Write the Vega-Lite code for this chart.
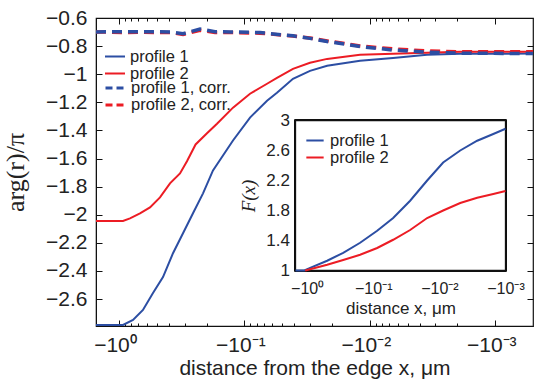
{
  "$schema": "https://vega.github.io/schema/vega-lite/v6.json",
  "width": 437,
  "height": 308,
  "autosize": {"type": "none"},
  "padding": {"left": 96, "top": 18, "right": 1, "bottom": 57},
  "background": "white",
  "config": {
    "view": {"stroke": "#111", "strokeWidth": 1.2},
    "font": "Liberation Sans",
    "axis": {
      "grid": false,
      "domainColor": "#111",
      "tickColor": "#111",
      "labelColor": "#222",
      "titleColor": "#222",
      "labelFont": "Liberation Sans",
      "titleFont": "Liberation Sans",
      "titleFontWeight": "normal"
    },
    "legend": {"labelFont": "Liberation Sans", "labelColor": "#222"}
  },
  "layer": [
    {
      "data": {
        "values": [
          {"d": 1.525, "v": -2.785, "s": "profile 1"},
          {"d": 0.929, "v": -2.785, "s": "profile 1"},
          {"d": 0.773, "v": -2.749, "s": "profile 1"},
          {"d": 0.644, "v": -2.678, "s": "profile 1"},
          {"d": 0.5357, "v": -2.557, "s": "profile 1"},
          {"d": 0.4457, "v": -2.444, "s": "profile 1"},
          {"d": 0.371, "v": -2.274, "s": "profile 1"},
          {"d": 0.3087, "v": -2.132, "s": "profile 1"},
          {"d": 0.257, "v": -1.99, "s": "profile 1"},
          {"d": 0.2138, "v": -1.848, "s": "profile 1"},
          {"d": 0.178, "v": -1.685, "s": "profile 1"},
          {"d": 0.1233, "v": -1.472, "s": "profile 1"},
          {"d": 0.0902, "v": -1.309, "s": "profile 1"},
          {"d": 0.066, "v": -1.189, "s": "profile 1"},
          {"d": 0.055, "v": -1.132, "s": "profile 1"},
          {"d": 0.041, "v": -1.033, "s": "profile 1"},
          {"d": 0.03, "v": -0.976, "s": "profile 1"},
          {"d": 0.0219, "v": -0.94, "s": "profile 1"},
          {"d": 0.01197, "v": -0.905, "s": "profile 1"},
          {"d": 0.00653, "v": -0.884, "s": "profile 1"},
          {"d": 0.0035, "v": -0.862, "s": "profile 1"},
          {"d": 0.00191, "v": -0.855, "s": "profile 1"},
          {"d": 0.0005, "v": -0.853, "s": "profile 1"},

          {"d": 1.525, "v": -2.045, "s": "profile 2"},
          {"d": 0.929, "v": -2.045, "s": "profile 2"},
          {"d": 0.817, "v": -2.026, "s": "profile 2"},
          {"d": 0.68, "v": -1.99, "s": "profile 2"},
          {"d": 0.566, "v": -1.948, "s": "profile 2"},
          {"d": 0.471, "v": -1.877, "s": "profile 2"},
          {"d": 0.392, "v": -1.777, "s": "profile 2"},
          {"d": 0.3263, "v": -1.706, "s": "profile 2"},
          {"d": 0.287, "v": -1.62, "s": "profile 2"},
          {"d": 0.245, "v": -1.5, "s": "profile 2"},
          {"d": 0.1987, "v": -1.42, "s": "profile 2"},
          {"d": 0.1654, "v": -1.352, "s": "profile 2"},
          {"d": 0.1233, "v": -1.238, "s": "profile 2"},
          {"d": 0.0902, "v": -1.139, "s": "profile 2"},
          {"d": 0.066, "v": -1.068, "s": "profile 2"},
          {"d": 0.055, "v": -1.026, "s": "profile 2"},
          {"d": 0.041, "v": -0.962, "s": "profile 2"},
          {"d": 0.03, "v": -0.919, "s": "profile 2"},
          {"d": 0.0219, "v": -0.891, "s": "profile 2"},
          {"d": 0.01197, "v": -0.862, "s": "profile 2"},
          {"d": 0.00653, "v": -0.855, "s": "profile 2"},
          {"d": 0.0035, "v": -0.848, "s": "profile 2"},
          {"d": 0.00191, "v": -0.841, "s": "profile 2"},
          {"d": 0.0005, "v": -0.84, "s": "profile 2"},

          {"d": 1.525, "v": -0.699, "s": "profile 2, corr."},
          {"d": 1.18, "v": -0.701, "s": "profile 2, corr."},
          {"d": 0.896, "v": -0.703, "s": "profile 2, corr."},
          {"d": 0.68, "v": -0.701, "s": "profile 2, corr."},
          {"d": 0.516, "v": -0.703, "s": "profile 2, corr."},
          {"d": 0.392, "v": -0.703, "s": "profile 2, corr."},
          {"d": 0.3087, "v": -0.717, "s": "profile 2, corr."},
          {"d": 0.226, "v": -0.688, "s": "profile 2, corr."},
          {"d": 0.1715, "v": -0.703, "s": "profile 2, corr."},
          {"d": 0.13, "v": -0.703, "s": "profile 2, corr."},
          {"d": 0.0751, "v": -0.708, "s": "profile 2, corr."},
          {"d": 0.041, "v": -0.728, "s": "profile 2, corr."},
          {"d": 0.03, "v": -0.742, "s": "profile 2, corr."},
          {"d": 0.0219, "v": -0.763, "s": "profile 2, corr."},
          {"d": 0.01197, "v": -0.799, "s": "profile 2, corr."},
          {"d": 0.00653, "v": -0.82, "s": "profile 2, corr."},
          {"d": 0.0035, "v": -0.834, "s": "profile 2, corr."},
          {"d": 0.00191, "v": -0.841, "s": "profile 2, corr."},
          {"d": 0.0005, "v": -0.841, "s": "profile 2, corr."},

          {"d": 1.525, "v": -0.699, "s": "profile 1, corr."},
          {"d": 1.18, "v": -0.698, "s": "profile 1, corr."},
          {"d": 0.896, "v": -0.697, "s": "profile 1, corr."},
          {"d": 0.68, "v": -0.699, "s": "profile 1, corr."},
          {"d": 0.516, "v": -0.697, "s": "profile 1, corr."},
          {"d": 0.392, "v": -0.699, "s": "profile 1, corr."},
          {"d": 0.3087, "v": -0.712, "s": "profile 1, corr."},
          {"d": 0.226, "v": -0.678, "s": "profile 1, corr."},
          {"d": 0.1715, "v": -0.697, "s": "profile 1, corr."},
          {"d": 0.13, "v": -0.699, "s": "profile 1, corr."},
          {"d": 0.0751, "v": -0.704, "s": "profile 1, corr."},
          {"d": 0.041, "v": -0.727, "s": "profile 1, corr."},
          {"d": 0.03, "v": -0.745, "s": "profile 1, corr."},
          {"d": 0.0219, "v": -0.767, "s": "profile 1, corr."},
          {"d": 0.01197, "v": -0.803, "s": "profile 1, corr."},
          {"d": 0.00653, "v": -0.828, "s": "profile 1, corr."},
          {"d": 0.0035, "v": -0.843, "s": "profile 1, corr."},
          {"d": 0.00191, "v": -0.85, "s": "profile 1, corr."},
          {"d": 0.0005, "v": -0.853, "s": "profile 1, corr."}
        ]
      },
      "layer": [
        {
          "transform": [{"filter": {"field": "s", "oneOf": ["profile 1", "profile 2"]}}],
          "mark": {"type": "line", "clip": true, "strokeWidth": 2},
          "encoding": {
            "x": {
              "field": "d",
              "type": "quantitative",
              "scale": {"type": "log", "domain": [0.0005, 1.525], "reverse": true, "nice": false},
              "axis": {
                "orient": "bottom",
                "values": [1, 0.1, 0.01, 0.001],
                "labelExpr": "datum.value > 0.5 ? '−10⁰' : datum.value > 0.05 ? '−10⁻¹' : datum.value > 0.005 ? '−10⁻²' : '−10⁻³'",
                "tickSize": -6,
                "labelPadding": 14,
                "labelOffset": -4,
                "labelFontSize": 21,
                "labelFlush": false,
                "title": "distance from the edge x, μm",
                "titleFontSize": 21,
                "titlePadding": 2
              }
            },
            "y": {
              "field": "v",
              "type": "quantitative",
              "scale": {"domain": [-2.792, -0.6], "nice": false, "zero": false},
              "axis": {
                "orient": "left",
                "values": [-2.6, -2.4, -2.2, -2, -1.8, -1.6, -1.4, -1.2, -1, -0.8, -0.6],
                "format": "~g",
                "tickSize": -6,
                "labelPadding": 15,
                "labelFontSize": 21,
                "labelFlush": false,
                "title": "arg(r)/π",
                "titleFont": "Liberation Serif",
                "titleFontSize": 26,
                "titlePadding": 17
              }
            },
            "color": {
              "field": "s",
              "type": "nominal",
              "scale": {"domain": ["profile 1", "profile 2"], "range": ["#2c4ea3", "#ec1c24"]},
              "legend": {
                "title": null, "orient": "none", "legendX": 8, "legendY": 31,
                "labelFontSize": 16.5, "symbolSize": 400, "symbolType": "stroke", "symbolStrokeWidth": 2,
                "clipHeight": 15, "rowPadding": 0, "labelOffset": 4, "padding": 0
              }
            }
          }
        },
        {
          "transform": [{"filter": {"field": "s", "oneOf": ["profile 1, corr.", "profile 2, corr."]}}],
          "mark": {"type": "line", "clip": true, "strokeWidth": 3.5, "strokeDash": [10, 6]},
          "encoding": {
            "x": {"field": "d", "type": "quantitative", "axis": null},
            "y": {"field": "v", "type": "quantitative", "axis": null},
            "stroke": {
              "field": "s",
              "type": "nominal",
              "scale": {"domain": ["profile 1, corr.", "profile 2, corr."], "range": ["#2c4ea3", "#ec1c24"]},
              "legend": {
                "title": null, "orient": "none", "legendX": 8, "legendY": 62.5,
                "labelFontSize": 16.5, "symbolSize": 400, "symbolType": "stroke", "symbolStrokeWidth": 3,
                "symbolDash": [7, 4],
                "clipHeight": 15, "rowPadding": 0, "labelOffset": 4, "padding": 0
              }
            }
          }
        },
        {
          "data": {"values": [{"k": 0}]},
          "mark": {"type": "point", "opacity": 0},
          "encoding": {
            "x": {
              "datum": 1, "type": "quantitative", "scale": {"type": "log"},
              "axis": {"orient": "top", "values": [1, 0.1, 0.01, 0.001], "labels": false, "domain": false, "tickSize": -6, "title": null}
            },
            "y": {
              "datum": -1, "type": "quantitative",
              "axis": {"orient": "right", "values": [-2.6, -2.4, -2.2, -2, -1.8, -1.6, -1.4, -1.2, -1, -0.8, -0.6], "labels": false, "domain": false, "tickSize": -6, "title": null}
            }
          }
        },
        {
          "data": {"values": [{"k": 0}]},
          "mark": {"type": "point", "opacity": 0},
          "encoding": {
            "x": {
              "datum": 1, "type": "quantitative", "scale": {"type": "log"},
              "axis": {"orient": "bottom", "values": [0.9, 0.8, 0.7, 0.6, 0.5, 0.4, 0.3, 0.2, 0.09, 0.08, 0.07, 0.06, 0.05, 0.04, 0.03, 0.02, 0.009, 0.008, 0.007, 0.006, 0.005, 0.004, 0.003, 0.002], "labels": false, "domain": false, "tickSize": -3, "title": null}
            }
          }
        },
        {
          "data": {"values": [{"k": 0}]},
          "mark": {"type": "point", "opacity": 0},
          "encoding": {
            "x": {
              "datum": 1, "type": "quantitative", "scale": {"type": "log"},
              "axis": {"orient": "top", "values": [0.9, 0.8, 0.7, 0.6, 0.5, 0.4, 0.3, 0.2, 0.09, 0.08, 0.07, 0.06, 0.05, 0.04, 0.03, 0.02, 0.009, 0.008, 0.007, 0.006, 0.005, 0.004, 0.003, 0.002], "labels": false, "domain": false, "tickSize": -3, "title": null}
            }
          }
        }
      ],
      "resolve": {"axis": {"x": "independent", "y": "independent"}}
    },
    {
      "data": {
        "values": [
          {"d": 1.5, "f": 1.0, "p": "profile 1"},
          {"d": 1.1, "f": 1.0, "p": "profile 1"},
          {"d": 0.901, "f": 1.036, "p": "profile 1"},
          {"d": 0.498, "f": 1.13, "p": "profile 1"},
          {"d": 0.285, "f": 1.236, "p": "profile 1"},
          {"d": 0.158, "f": 1.37, "p": "profile 1"},
          {"d": 0.0873, "f": 1.53, "p": "profile 1"},
          {"d": 0.05, "f": 1.7, "p": "profile 1"},
          {"d": 0.0277, "f": 1.93, "p": "profile 1"},
          {"d": 0.0153, "f": 2.2, "p": "profile 1"},
          {"d": 0.00877, "f": 2.44, "p": "profile 1"},
          {"d": 0.00484, "f": 2.6, "p": "profile 1"},
          {"d": 0.00268, "f": 2.73, "p": "profile 1"},
          {"d": 0.00153, "f": 2.82, "p": "profile 1"},
          {"d": 0.001, "f": 2.89, "p": "profile 1"},

          {"d": 1.07, "f": 1.0, "p": "profile 2"},
          {"d": 0.498, "f": 1.076, "p": "profile 2"},
          {"d": 0.285, "f": 1.14, "p": "profile 2"},
          {"d": 0.158, "f": 1.21, "p": "profile 2"},
          {"d": 0.0873, "f": 1.3, "p": "profile 2"},
          {"d": 0.05, "f": 1.41, "p": "profile 2"},
          {"d": 0.0277, "f": 1.54, "p": "profile 2"},
          {"d": 0.0153, "f": 1.7, "p": "profile 2"},
          {"d": 0.00877, "f": 1.8, "p": "profile 2"},
          {"d": 0.00484, "f": 1.9, "p": "profile 2"},
          {"d": 0.00268, "f": 1.97, "p": "profile 2"},
          {"d": 0.00153, "f": 2.02, "p": "profile 2"},
          {"d": 0.001, "f": 2.06, "p": "profile 2"}
        ]
      },
      "layer": [
        {
          "mark": {"type": "rect", "fill": "white", "stroke": "#111", "strokeWidth": 1.3},
          "encoding": {
            "x": {"datum": 1.5, "type": "quantitative", "scale": {"type": "log", "domain": [0.001, 1.5], "reverse": true, "nice": false, "range": [199.5, 409.5]}, "axis": null},
            "x2": {"datum": 0.001},
            "y": {"datum": 1, "type": "quantitative", "scale": {"domain": [1, 3], "nice": false, "zero": false, "range": [252.5, 102.5]}, "axis": null},
            "y2": {"datum": 3}
          }
        },
        {
          "mark": {"type": "line", "strokeWidth": 2},
          "encoding": {
            "x": {
              "field": "d",
              "type": "quantitative",
              "scale": {"type": "log", "domain": [0.001, 1.5], "reverse": true, "nice": false, "range": [199.5, 409.5]},
              "axis": {
                "orient": "bottom",
                "offset": -55.5,
                "domain": false,
                "values": [1, 0.1, 0.01, 0.001],
                "labelExpr": "datum.value > 0.5 ? '−10⁰' : datum.value > 0.05 ? '−10⁻¹' : datum.value > 0.005 ? '−10⁻²' : '−10⁻³'",
                "tickSize": -5,
                "labelPadding": 15,
                "labelFontSize": 16,
                "labelFlush": false,
                "title": "distance x,  μm",
                "titleFontSize": 17,
                "titlePadding": 4
              }
            },
            "y": {
              "field": "f",
              "type": "quantitative",
              "scale": {"domain": [1, 3], "nice": false, "zero": false, "range": [252.5, 102.5]},
              "axis": {
                "orient": "left",
                "offset": -199.5,
                "domain": false,
                "values": [1, 1.4, 1.8, 2.2, 2.6, 3],
                "format": "~g",
                "tickSize": -5,
                "labelPadding": 11,
                "labelFontSize": 17,
                "labelFlush": false,
                "title": "F(x)",
                "titleFont": "Liberation Serif",
                "titleFontStyle": "italic",
                "titleFontSize": 19,
                "titlePadding": 7
              }
            },
            "color": {
              "field": "p",
              "type": "nominal",
              "scale": {"domain": ["profile 1", "profile 2"], "range": ["#2c4ea3", "#ec1c24"]},
              "legend": {
                "title": null, "orient": "none", "legendX": 209, "legendY": 115,
                "labelFontSize": 16.5, "symbolSize": 300, "symbolStrokeWidth": 2, "symbolType": "stroke",
                "clipHeight": 15, "rowPadding": 0, "labelOffset": 5, "padding": 0
              }
            }
          }
        },
        {
          "data": {"values": [{"k": 0}]},
          "mark": {"type": "point", "opacity": 0},
          "encoding": {
            "x": {
              "datum": 1, "type": "quantitative", "scale": {"type": "log"},
              "axis": {"orient": "top", "offset": -102.5, "values": [1, 0.1, 0.01, 0.001], "labels": false, "domain": false, "tickSize": -5, "title": null}
            },
            "y": {
              "datum": 2, "type": "quantitative",
              "axis": {"orient": "right", "offset": -27.5, "values": [1, 1.4, 1.8, 2.2, 2.6, 3], "labels": false, "domain": false, "tickSize": -5, "title": null}
            }
          }
        },
        {
          "data": {"values": [{"k": 0}]},
          "mark": {"type": "point", "opacity": 0},
          "encoding": {
            "x": {
              "datum": 1, "type": "quantitative", "scale": {"type": "log"},
              "axis": {"orient": "bottom", "offset": -55.5, "values": [0.9, 0.8, 0.7, 0.6, 0.5, 0.4, 0.3, 0.2, 0.09, 0.08, 0.07, 0.06, 0.05, 0.04, 0.03, 0.02, 0.009, 0.008, 0.007, 0.006, 0.005, 0.004, 0.003, 0.002], "labels": false, "domain": false, "tickSize": -2.5, "title": null}
            }
          }
        },
        {
          "data": {"values": [{"k": 0}]},
          "mark": {"type": "point", "opacity": 0},
          "encoding": {
            "x": {
              "datum": 1, "type": "quantitative", "scale": {"type": "log"},
              "axis": {"orient": "top", "offset": -102.5, "values": [0.9, 0.8, 0.7, 0.6, 0.5, 0.4, 0.3, 0.2, 0.09, 0.08, 0.07, 0.06, 0.05, 0.04, 0.03, 0.02, 0.009, 0.008, 0.007, 0.006, 0.005, 0.004, 0.003, 0.002], "labels": false, "domain": false, "tickSize": -2.5, "title": null}
            }
          }
        }
      ],
      "resolve": {"axis": {"x": "independent", "y": "independent"}}
    }
  ],
  "resolve": {
    "scale": {"x": "independent", "y": "independent", "color": "independent"},
    "axis": {"x": "independent", "y": "independent"},
    "legend": {"color": "independent"}
  }
}
